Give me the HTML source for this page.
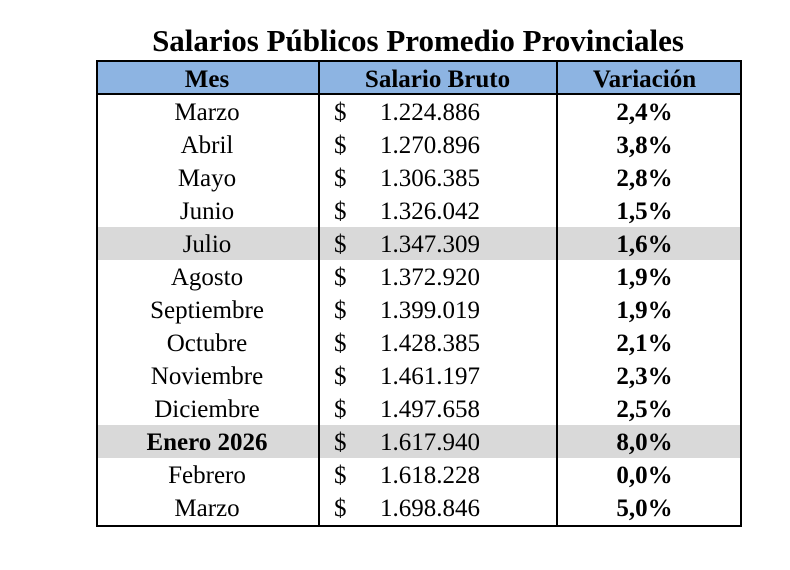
<!DOCTYPE html>
<html><head><meta charset="utf-8"><style>
body{margin:0;width:790px;height:570px;background:#fff;font-family:"Liberation Serif",serif;position:relative;overflow:hidden}
.t{position:absolute;left:96px;width:644px;top:22px;text-align:center;font-weight:bold;font-size:31px;line-height:38px;color:#000}
.tab{position:absolute;left:96px;top:60px;width:642px;height:463px;border:2px solid #000}
.hd{position:absolute;left:0;top:0;width:642px;height:31px;background:#8DB4E2;border-bottom:2px solid #000}
.v{position:absolute;top:0;bottom:0;width:1.5px;background:#000}
.r{position:absolute;left:0;width:642px;height:33px;font-size:25px;line-height:36px}
.r span{position:absolute;top:0}
.c1{left:0;width:218px;text-align:center}
.d{left:236px}
.n{left:282px}
.c3{left:455px;width:183px;text-align:center;font-weight:bold}
.g{background:#D9D9D9}
.h{font-weight:bold;line-height:36px}
</style></head><body>
<div class="t">Salarios Públicos Promedio Provinciales</div>
<div class="tab">
<div class="hd"></div>
<div class="r h" style="top:0;height:31px"><span class="c1">Mes</span><span style="left:220px;width:239px;text-align:center">Salario Bruto</span><span class="c3">Variación</span></div>
<div class="r" style="top:33px"><span class="c1">Marzo</span><span class="d">$</span><span class="n">1.224.886</span><span class="c3">2,4%</span></div>
<div class="r" style="top:66px"><span class="c1">Abril</span><span class="d">$</span><span class="n">1.270.896</span><span class="c3">3,8%</span></div>
<div class="r" style="top:99px"><span class="c1">Mayo</span><span class="d">$</span><span class="n">1.306.385</span><span class="c3">2,8%</span></div>
<div class="r" style="top:132px"><span class="c1">Junio</span><span class="d">$</span><span class="n">1.326.042</span><span class="c3">1,5%</span></div>
<div class="r g" style="top:165px"><span class="c1">Julio</span><span class="d">$</span><span class="n">1.347.309</span><span class="c3">1,6%</span></div>
<div class="r" style="top:198px"><span class="c1">Agosto</span><span class="d">$</span><span class="n">1.372.920</span><span class="c3">1,9%</span></div>
<div class="r" style="top:231px"><span class="c1">Septiembre</span><span class="d">$</span><span class="n">1.399.019</span><span class="c3">1,9%</span></div>
<div class="r" style="top:264px"><span class="c1">Octubre</span><span class="d">$</span><span class="n">1.428.385</span><span class="c3">2,1%</span></div>
<div class="r" style="top:297px"><span class="c1">Noviembre</span><span class="d">$</span><span class="n">1.461.197</span><span class="c3">2,3%</span></div>
<div class="r" style="top:330px"><span class="c1">Diciembre</span><span class="d">$</span><span class="n">1.497.658</span><span class="c3">2,5%</span></div>
<div class="r g" style="top:363px"><span class="c1" style="font-weight:bold">Enero 2026</span><span class="d">$</span><span class="n">1.617.940</span><span class="c3">8,0%</span></div>
<div class="r" style="top:396px"><span class="c1">Febrero</span><span class="d">$</span><span class="n">1.618.228</span><span class="c3">0,0%</span></div>
<div class="r" style="top:429px;height:34px"><span class="c1">Marzo</span><span class="d">$</span><span class="n">1.698.846</span><span class="c3">5,0%</span></div>
<div class="v" style="left:220px"></div>
<div class="v" style="left:458px"></div>
</div>
</body></html>
